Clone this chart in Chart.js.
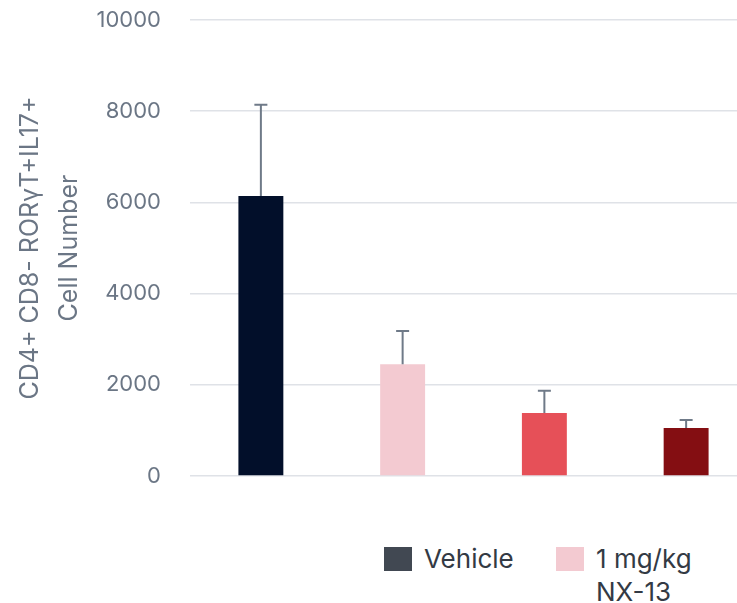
<!DOCTYPE html>
<html>
<head>
<meta charset="utf-8">
<script src="https://cdn.jsdelivr.net/npm/chart.js@4"></script>
<style>
  html, body { margin: 0; padding: 0; background: #ffffff; overflow: hidden; width: 737px; height: 603px; }
  #wrap { position: relative; width: 760px; height: 500px; }
  .item { position: absolute; top: 543px; display: flex; align-items: flex-start; font-family: "Inter", "Open Sans", sans-serif; font-size: 26px; color: #333a44; }
  .box { width: 28px; height: 24px; margin-top: 4px; margin-right: 12px; flex: none; }
  .txt { line-height: 33px; margin-top: -1px; }
</style>
</head>
<body>
<div id="wrap"><canvas id="chart"></canvas></div>
<div id="legend"></div>
<script>
// Groups and measured cell counts (mean and upper error bound)
const groups = ["Vehicle", "1 mg/kg NX-13", "Group 3", "Group 4"];
const cellCounts = [6140, 2450, 1380, 1050];
const errorUpper = [8140, 3180, 1870, 1230];
const barColors = ["#020f2a", "#f3cad1", "#e65058", "#840e12"];
const yTicks = [0, 2000, 4000, 6000, 8000, 10000];

// Legend entries shown under the plot
const legendLabels = ["Vehicle", "1 mg/kg NX-13"];
const legendColors = ["#414852", "#f3cad1"];
const legendLeft = [384, 556];
const legendWidths = [null, 112];

const legendEl = document.getElementById("legend");
legendLabels.forEach((lab, i) => {
  const item = document.createElement("div");
  item.className = "item";
  item.style.left = legendLeft[i] + "px";
  const box = document.createElement("div");
  box.className = "box";
  box.style.background = legendColors[i];
  const txt = document.createElement("div");
  txt.className = "txt";
  txt.textContent = lab;
  if (legendWidths[i]) txt.style.width = legendWidths[i] + "px";
  item.appendChild(box);
  item.appendChild(txt);
  legendEl.appendChild(item);
});

// Draws the upper error whiskers from the y scale
const errorBars = {
  id: "errorBars",
  afterDatasetsDraw(chart) {
    const ctx = chart.ctx;
    const y = chart.scales.y;
    const meta = chart.getDatasetMeta(0);
    ctx.save();
    ctx.strokeStyle = "#6f7a88";
    ctx.lineWidth = 2;
    meta.data.forEach((bar, i) => {
      const top = y.getPixelForValue(errorUpper[i]);
      const base = y.getPixelForValue(cellCounts[i]);
      ctx.beginPath();
      ctx.moveTo(bar.x, base);
      ctx.lineTo(bar.x, top);
      ctx.moveTo(bar.x - 6.5, top);
      ctx.lineTo(bar.x + 6.5, top);
      ctx.stroke();
    });
    ctx.restore();
  }
};

new Chart(document.getElementById("chart"), {
  type: "bar",
  data: {
    labels: groups,
    datasets: [{
      data: cellCounts,
      backgroundColor: barColors,
      barPercentage: 0.317,
      categoryPercentage: 1
    }]
  },
  options: {
    responsive: true,
    maintainAspectRatio: false,
    animation: false,
    layout: { padding: { top: 20, bottom: 24, right: 3, left: 11 } },
    plugins: { legend: { display: false }, tooltip: { enabled: false } },
    scales: {
      x: { display: false },
      y: {
        min: 0,
        max: 10000,
        afterBuildTicks(scale) { scale.ticks = yTicks.map(v => ({ value: v })); },
        afterFit(scale) {
          scale.width = 179;
          scale.paddingTop = 0;
          scale.paddingBottom = 0;
        },
        border: { display: false },
        grid: { color: "#dfe2e7", lineWidth: 1.5, drawTicks: false },
        ticks: {
          padding: 29,
          color: "#6b7685",
          font: { family: "Inter", size: 22 },
          callback: (v) => String(v)
        },
        title: {
          display: true,
          text: ["CD4+ CD8- RORγT+IL17+", "Cell Number"],
          color: "#6b7685",
          font: { family: "Inter", size: 25, lineHeight: 1.55 },
          padding: { top: 0, bottom: 0 }
        }
      }
    }
  },
  plugins: [errorBars]
});
</script>
</body>
</html>
